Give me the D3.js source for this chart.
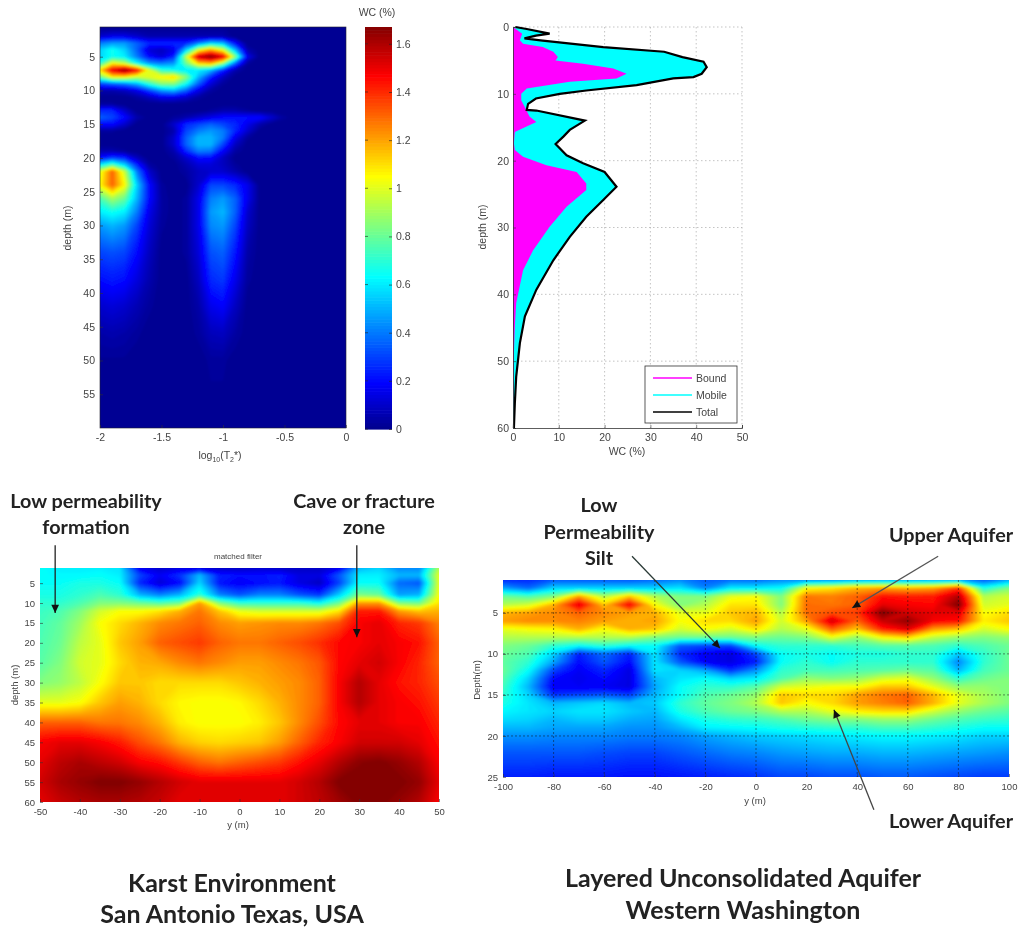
<!DOCTYPE html>
<html>
<head>
<meta charset="utf-8">
<title>Aquifer water content panels</title>
<script src="https://cdn.jsdelivr.net/npm/d3@7"></script>
<style>
    html, body { margin: 0; background: #fff; }
    svg { display: block; }
    .tick-text { font: 10.5px "Liberation Sans", Arial, sans-serif; fill: #444; }
    .note { font: 700 19.8px Lato, sans-serif; fill: #222; text-anchor: middle; }
    .caption { font: 700 25px Lato, sans-serif; fill: #222; text-anchor: middle; }
</style>
</head>
<body>
<svg id="chart" width="1035" height="928"></svg>
<script>
// ========================================
// DATA
// ========================================

// top left: water content by decay time and depth
const t2Cols = [-2, -1.9, -1.8, -1.7, -1.6, -1.5, -1.4, -1.3, -1.2, -1.1, -1, -0.9, -0.8, -0.7, -0.6, -0.5, -0.4, 0];
const t2Depths = [0.5, 1, 2, 3, 4, 5, 6, 7, 8, 9, 10, 11, 12, 13, 14, 15, 16, 17, 18, 19, 20, 21, 22, 24, 26, 28, 30, 34, 38, 42, 46, 50, 60];
const t2Water = [
    [0, 0, 0, 0, 0, 0, 0, 0, 0, 0, 0, 0, 0, 0, 0, 0, 0, 0],
    [.02, .02, .02, .02, .02, .02, .02, .02, .02, .02, .02, 0, 0, 0, 0, 0, 0, 0],
    [.1, .15, .15, .1, .05, .05, .05, .05, .05, .05, .05, 0, 0, 0, 0, 0, 0, 0],
    [.4, .45, .45, .35, .25, .25, .25, .25, .4, .55, .5, .2, 0, 0, 0, 0, 0, 0],
    [.55, .65, .55, .35, .12, .08, .15, .55, 1, 1.2, 1, .5, .05, 0, 0, 0, 0, 0],
    [.55, .65, .6, .4, .2, .12, .25, .95, 1.55, 1.67, 1.5, .85, .15, 0, 0, 0, 0, 0],
    [.7, 1.05, .95, .65, .45, .4, .45, .8, 1.1, 1.15, .85, .35, .02, 0, 0, 0, 0, 0],
    [1.1, 1.5, 1.65, 1.45, 1, .7, .65, .6, .6, .5, .25, .05, 0, 0, 0, 0, 0, 0],
    [.8, 1.05, 1.05, .95, 1, 1.05, 1.1, .85, .5, .25, .08, 0, 0, 0, 0, 0, 0, 0],
    [.3, .35, .4, .5, .7, .85, .85, .65, .35, .12, .02, 0, 0, 0, 0, 0, 0, 0],
    [.05, .05, .08, .15, .3, .45, .5, .35, .15, .03, 0, 0, 0, 0, 0, 0, 0, 0],
    [0, 0, 0, .03, .08, .15, .15, .1, .03, 0, 0, 0, 0, 0, 0, 0, 0, 0],
    [.02, .02, 0, 0, 0, 0, 0, 0, 0, 0, 0, 0, 0, 0, 0, 0, 0, 0],
    [.25, .25, .1, 0, 0, 0, 0, 0, 0, .02, .05, .05, .02, 0, 0, 0, 0, 0],
    [.35, .3, .2, .05, 0, 0, .02, .05, .1, .15, .2, .2, .2, .2, .1, .02, 0, 0],
    [.2, .2, .1, 0, 0, 0, .1, .25, .3, .35, .3, .25, .15, .05, 0, 0, 0, 0],
    [.02, .02, 0, 0, 0, 0, .05, .3, .4, .45, .4, .25, .1, 0, 0, 0, 0, 0],
    [0, 0, 0, 0, 0, 0, .1, .35, .5, .5, .4, .15, .02, 0, 0, 0, 0, 0],
    [0, 0, 0, 0, 0, 0, .1, .35, .5, .5, .3, .08, 0, 0, 0, 0, 0, 0],
    [.05, .05, .02, 0, 0, 0, .05, .25, .4, .38, .18, .03, 0, 0, 0, 0, 0, 0],
    [.2, .3, .25, .08, 0, 0, .02, .1, .2, .2, .08, 0, 0, 0, 0, 0, 0, 0],
    [.6, .75, .55, .25, .03, 0, 0, .05, .12, .12, .08, .02, 0, 0, 0, 0, 0, 0],
    [1, 1.3, .95, .4, .1, 0, 0, .03, .08, .1, .1, .05, 0, 0, 0, 0, 0, 0],
    [1.05, 1.3, 1.05, .55, .2, .02, 0, 0, .1, .3, .3, .25, .15, 0, 0, 0, 0, 0],
    [.75, .9, .8, .5, .2, .03, 0, .02, .15, .4, .45, .35, .15, 0, 0, 0, 0, 0],
    [.6, .65, .6, .4, .15, .03, 0, .02, .15, .45, .5, .35, .1, 0, 0, 0, 0, 0],
    [.45, .5, .45, .3, .12, .02, 0, .02, .15, .42, .45, .3, .08, 0, 0, 0, 0, 0],
    [.3, .32, .3, .2, .08, 0, 0, .02, .12, .32, .35, .22, .04, 0, 0, 0, 0, 0],
    [.2, .22, .2, .13, .05, 0, 0, 0, .08, .25, .28, .15, .02, 0, 0, 0, 0, 0],
    [.1, .12, .1, .06, .02, 0, 0, 0, .04, .15, .18, .08, 0, 0, 0, 0, 0, 0],
    [.04, .05, .04, .02, 0, 0, 0, 0, .02, .07, .08, .03, 0, 0, 0, 0, 0, 0],
    [.01, .01, .01, 0, 0, 0, 0, 0, 0, .02, .02, 0, 0, 0, 0, 0, 0, 0],
    [0, 0, 0, 0, 0, 0, 0, 0, 0, 0, 0, 0, 0, 0, 0, 0, 0, 0]
];
const t2Ticks = [-2, -1.5, -1, -0.5, 0];
const depthTicks55 = [5, 10, 15, 20, 25, 30, 35, 40, 45, 50, 55];
const colorbarTicks = [0, 0.2, 0.4, 0.6, 0.8, 1, 1.2, 1.4, 1.6];

// top right: profile
const totalDepth = [0, 0.3, 1, 1.3, 1.7, 2, 3, 3.7, 4.5, 5.2, 6, 7, 7.5, 7.7, 8.7, 9.5, 10, 10.7, 11.5, 12.4, 12.5, 14, 15.4, 16.4, 17.5, 19.2, 20.4, 21.7, 23.9, 25.9, 28.4, 31.4, 34.9, 39.3, 43.3, 47.3, 52.3, 56.3, 60];
const totalWC = [0.5, 3, 8, 5, 2.5, 6, 19.7, 33, 37, 41.6, 42.3, 41.2, 39.4, 35, 27, 16, 10.2, 5, 3.3, 3, 5.1, 15.7, 12.4, 11, 9.3, 11.7, 15.3, 20, 22.6, 19.7, 16, 12.4, 8.8, 5.1, 2.6, 1.5, 0.7, 0.4, 0.2];
const boundDepth = [0, 1, 2, 2.5, 3, 3.7, 4.5, 5, 5.5, 6.2, 7, 7.7, 8.2, 9.2, 10, 11, 12, 13.4, 14.2, 15, 15.7, 17.4, 18.4, 19.4, 20.7, 21.7, 23.4, 24.4, 26.9, 29.9, 33.4, 36.4, 41.3, 44.8, 49.8, 60];
const boundWC = [0, 2, 1.5, 2.2, 6.5, 8.8, 9.8, 9.3, 15.3, 21.9, 24.8, 22.6, 12.4, 3, 1.8, 1.8, 2.6, 3.6, 5.1, 2.6, 0.4, 0.2, 0.4, 2.2, 7.3, 13.9, 16, 16, 11.7, 8, 4.4, 2.2, 0.7, 0.4, 0.15, 0];
const profileWCTicks = [0, 10, 20, 30, 40, 50];
const profileDepthTicks = [0, 10, 20, 30, 40, 50, 60];
const legendNames = ["Bound", "Mobile", "Total"];
const legendColors = ["#ff00ff", "#00ffff", "#000000"];

// bottom left: karst section, values are colour map fractions
const karstY = [-50, -45, -40, -35, -30, -25, -20, -15, -10, -5, 0, 5, 10, 15, 20, 25, 30, 35, 40, 45, 50];
const karstDepths = [1.2, 3, 5, 8, 10, 12, 15, 20, 25, 30, 35, 40, 45, 50, 55, 60];
const karstValues = [
    [.38, .36, .36, .36, .35, .1, .06, .08, .08, .05, .05, .06, .05, .05, .05, .1, .3, .33, .25, .25, .55],
    [.38, .37, .37, .38, .36, .18, .1, .16, .3, .14, .12, .12, .14, .08, .08, .2, .36, .36, .3, .3, .6],
    [.38, .38, .4, .4, .38, .15, .07, .12, .33, .13, .1, .12, .13, .08, .05, .18, .38, .38, .22, .2, .6],
    [.4, .4, .42, .45, .42, .3, .25, .3, .42, .25, .2, .25, .25, .2, .17, .33, .5, .48, .28, .3, .62],
    [.42, .42, .45, .5, .5, .48, .45, .48, .72, .5, .42, .42, .42, .42, .38, .48, .72, .72, .5, .48, .65],
    [.43, .45, .5, .58, .62, .62, .65, .7, .76, .68, .6, .58, .58, .58, .58, .65, .85, .85, .72, .68, .7],
    [.44, .47, .53, .62, .66, .7, .74, .76, .78, .74, .72, .73, .74, .74, .76, .8, .88, .9, .84, .82, .75],
    [.45, .48, .56, .6, .68, .72, .78, .8, .82, .78, .76, .76, .78, .8, .83, .87, .88, .9, .88, .86, .78],
    [.46, .5, .58, .6, .66, .7, .71, .74, .76, .74, .72, .72, .74, .76, .79, .87, .9, .92, .88, .84, .78],
    [.5, .52, .56, .62, .68, .68, .66, .66, .66, .66, .68, .7, .72, .74, .78, .88, .95, .9, .86, .84, .8],
    [.6, .6, .62, .68, .72, .7, .66, .63, .62, .62, .63, .66, .7, .74, .78, .88, .95, .9, .88, .86, .82],
    [.78, .78, .78, .76, .76, .74, .7, .64, .62, .62, .62, .64, .68, .74, .8, .87, .9, .9, .88, .88, .84],
    [.88, .9, .9, .88, .85, .8, .76, .7, .67, .66, .67, .68, .72, .78, .84, .88, .92, .92, .92, .9, .86],
    [.9, .94, .96, .94, .92, .88, .86, .82, .78, .76, .78, .8, .82, .86, .9, .95, .99, 1, .98, .95, .88],
    [.92, .96, .98, 1, 1, .98, .95, .92, .9, .9, .9, .9, .9, .92, .95, 1, 1, 1, 1, .98, .9],
    [.9, .93, .95, .96, .96, .95, .93, .9, .9, .9, .9, .9, .9, .92, .94, .97, 1, 1, .98, .95, .88]
];
const karstYTicks = [-50, -40, -30, -20, -10, 0, 10, 20, 30, 40, 50];
const karstDepthTicks = [5, 10, 15, 20, 25, 30, 35, 40, 45, 50, 55, 60];

// bottom right: layered aquifer section, values are colour map fractions
const layerY = [-100, -90, -80, -70, -60, -50, -40, -30, -20, -10, 0, 10, 20, 30, 40, 50, 60, 70, 80, 90, 100];
const layerDepths = [1, 2, 3, 4, 5, 6, 7, 8, 9, 10, 11, 12, 13, 14, 15, 16, 17, 18, 19, 20, 22, 25];
const layerValues = [
    [.15, .15, .2, .2, .2, .2, .22, .25, .2, .22, .22, .25, .25, .25, .28, .28, .28, .28, .28, .2, .28],
    [.28, .22, .33, .33, .33, .33, .33, .35, .25, .36, .36, .38, .62, .65, .7, .72, .7, .72, .82, .4, .5],
    [.48, .45, .5, .72, .55, .68, .55, .5, .5, .6, .62, .5, .76, .75, .78, .86, .85, .85, .95, .55, .58],
    [.55, .58, .7, .9, .68, .88, .62, .5, .55, .65, .65, .5, .77, .76, .78, .9, .88, .87, 1, .58, .6],
    [.7, .72, .74, .78, .74, .72, .7, .6, .6, .68, .7, .55, .77, .8, .82, 1, .92, .9, .9, .62, .66],
    [.72, .74, .74, .75, .72, .7, .72, .62, .66, .66, .72, .58, .72, .92, .78, .93, .98, .88, .86, .64, .68],
    [.6, .62, .63, .7, .62, .7, .68, .58, .62, .58, .65, .55, .6, .78, .68, .84, .9, .72, .68, .58, .62],
    [.55, .55, .55, .55, .55, .55, .5, .48, .48, .48, .5, .48, .5, .6, .52, .62, .66, .56, .52, .5, .52],
    [.5, .48, .42, .38, .42, .38, .38, .2, .18, .18, .38, .42, .42, .42, .44, .46, .46, .45, .42, .45, .48],
    [.48, .45, .33, .14, .22, .14, .35, .15, .1, .08, .18, .38, .4, .38, .4, .4, .42, .42, .32, .42, .48],
    [.47, .42, .28, .12, .2, .12, .35, .2, .1, .08, .14, .38, .42, .38, .42, .42, .42, .42, .25, .42, .48],
    [.48, .38, .18, .1, .15, .08, .35, .33, .28, .16, .26, .42, .44, .44, .45, .46, .48, .46, .3, .44, .48],
    [.46, .33, .12, .09, .12, .08, .3, .35, .38, .33, .36, .45, .52, .5, .52, .58, .6, .52, .42, .48, .5],
    [.44, .3, .1, .1, .1, .08, .28, .38, .42, .42, .46, .58, .6, .62, .62, .68, .68, .6, .52, .52, .5],
    [.42, .33, .16, .18, .2, .17, .3, .38, .45, .48, .52, .68, .66, .66, .72, .76, .78, .7, .6, .54, .5],
    [.4, .35, .3, .32, .34, .3, .32, .42, .47, .5, .55, .68, .62, .66, .72, .75, .78, .7, .6, .54, .5],
    [.37, .35, .33, .35, .35, .32, .3, .4, .45, .48, .5, .55, .55, .6, .64, .66, .66, .58, .52, .48, .46],
    [.34, .33, .3, .32, .32, .29, .28, .35, .4, .42, .43, .45, .48, .5, .5, .52, .52, .48, .45, .43, .42],
    [.3, .3, .28, .28, .28, .26, .26, .3, .36, .37, .38, .4, .41, .42, .42, .44, .44, .42, .4, .38, .38],
    [.26, .26, .25, .25, .25, .24, .24, .25, .28, .3, .32, .33, .34, .35, .36, .37, .37, .36, .35, .33, .33],
    [.2, .2, .2, .2, .19, .18, .18, .2, .22, .24, .25, .27, .28, .29, .29, .3, .3, .29, .28, .27, .26],
    [.14, .14, .13, .13, .13, .12, .12, .13, .14, .15, .16, .18, .18, .19, .19, .2, .2, .19, .18, .17, .17]
];
const layerYTicks = [-100, -80, -60, -40, -20, 0, 20, 40, 60, 80, 100];
const layerDepthTicks = [5, 10, 15, 20, 25];

// ========================================
// SHARED HELPERS
// ========================================

const svg = d3.select("#chart");
const defs = svg.append("defs");

const jet = d3.scaleLinear()
    .domain([0, 0.11, 0.375, 0.625, 0.875, 1])
    .range(["#00008f", "#0000ff", "#00ffff", "#ffff00", "#ff0000", "#800000"])
    .clamp(true);

function addBlur(id, amount) {
    defs.append("filter").attr("id", id)
        .attr("x", "-5%").attr("y", "-5%").attr("width", "110%").attr("height", "110%")
        .append("feGaussianBlur").attr("stdDeviation", amount);
}
addBlur("softText", 0.6);
addBlur("softNote", 0.35);
addBlur("softLine", 0.6);
addBlur("softHeat", 1.3);

function makeScales(xDomain, xRange, yDomain, yRange) {
    return {
        x: d3.scaleLinear().domain(xDomain).range(xRange),
        y: d3.scaleLinear().domain(yDomain).range(yRange)
    };
}

// filled contours keep the jet colours correct between the read values
function drawHeat(id, scales, cols, rows, matrix, maxValue) {
    const [x0, x1] = scales.x.range();
    const [y0, y1] = scales.y.range();

    defs.append("clipPath").attr("id", id)
        .append("rect")
        .attr("x", x0).attr("y", y0)
        .attr("width", x1 - x0).attr("height", y1 - y0);

    const g = svg.append("g").attr("clip-path", `url(#${id})`);
    g.append("rect")
        .attr("x", x0).attr("y", y0)
        .attr("width", x1 - x0).attr("height", y1 - y0)
        .attr("fill", jet(0));

    const colPixel = d3.scaleLinear().domain(cols.map((d, i) => i + 0.5)).range(cols.map(scales.x));
    const rowPixel = d3.scaleLinear().domain(rows.map((d, i) => i + 0.5)).range(rows.map(scales.y));
    const path = d3.geoPath(d3.geoTransform({
        point(a, b) { this.stream.point(colPixel(a), rowPixel(b)); }
    }));

    const levels = d3.range(0, 120).map(i => i / 120 * maxValue);
    const contours = d3.contours()
        .size([cols.length, rows.length])
        .thresholds(levels)(matrix.flat());

    g.append("g").attr("filter", "url(#softHeat)")
        .selectAll("path")
        .data(contours)
        .join("path")
        .attr("d", path)
        .attr("fill", d => jet((d.value + maxValue / 240) / maxValue));
}

function drawAxes(scales, opts) {
    const g = svg.append("g").attr("filter", "url(#softText)");
    const [x0, x1] = scales.x.range();
    const [y0, y1] = scales.y.range();

    g.append("rect")
        .attr("x", x0).attr("y", y0)
        .attr("width", x1 - x0).attr("height", y1 - y0)
        .attr("fill", "none")
        .attr("stroke", opts.frame || "#555")
        .attr("stroke-width", 0.6);

    const xAxis = d3.axisBottom(scales.x).tickValues(opts.xTicks).tickSize(-3).tickPadding(6).tickFormat(String);
    const yAxis = d3.axisLeft(scales.y).tickValues(opts.yTicks).tickSize(-3).tickPadding(5).tickFormat(String);

    g.append("g").attr("transform", `translate(0,${y1})`).call(xAxis);
    g.append("g").attr("transform", `translate(${x0},0)`).call(yAxis);

    g.selectAll(".domain").remove();
    g.selectAll(".tick line").attr("stroke", "#333").attr("stroke-width", 0.6);
    g.selectAll(".tick text").attr("class", "tick-text").style("font-size", opts.fontSize || "10.5px");

    g.append("text").attr("class", "tick-text")
        .attr("x", opts.xLabelPos[0]).attr("y", opts.xLabelPos[1])
        .attr("text-anchor", "middle")
        .style("font-size", opts.fontSize || "10.5px")
        .text(opts.xTitle);
    g.append("text").attr("class", "tick-text")
        .attr("transform", `translate(${opts.yLabelPos[0]},${opts.yLabelPos[1]}) rotate(-90)`)
        .attr("text-anchor", "middle")
        .style("font-size", opts.fontSize || "10.5px")
        .text(opts.yTitle);
    return g;
}

function drawArrow(scales, from, to, color) {
    const x1 = scales.x(from[0]), y1 = scales.y(from[1]);
    const x2 = scales.x(to[0]), y2 = scales.y(to[1]);
    const angle = Math.atan2(y2 - y1, x2 - x1);
    svg.append("line")
        .attr("x1", x1).attr("y1", y1).attr("x2", x2).attr("y2", y2)
        .attr("stroke", color).attr("stroke-width", 1.3);
    const head = d3.range(3).map(i => {
        const a = angle + [0, 2.7, -2.7][i];
        const r = i === 0 ? 0 : 9;
        return [x2 + r * Math.cos(a), y2 + r * Math.sin(a)];
    });
    svg.append("polygon")
        .attr("points", head.join(" "))
        .attr("fill", "#111");
}

// ========================================
// TOP LEFT: T2 DISTRIBUTION
// ========================================

const t2Scales = makeScales([-2, 0], [100, 346], [0.6, 60], [27, 428]);
drawHeat("clipT2", t2Scales, t2Cols, t2Depths, t2Water, 1.67);
const t2Axes = drawAxes(t2Scales, {
    xTicks: t2Ticks, yTicks: depthTicks55,
    xTitle: "", yTitle: "depth (m)",
    xLabelPos: [223, 455], yLabelPos: [71, 228], frame: "#223"
});
const t2Title = t2Axes.append("text").attr("class", "tick-text")
    .attr("x", 220).attr("y", 459).attr("text-anchor", "middle");
t2Title.append("tspan").text("log");
t2Title.append("tspan").attr("dy", 3).style("font-size", "7px").text("10");
t2Title.append("tspan").attr("dy", -3).text("(T");
t2Title.append("tspan").attr("dy", 3).style("font-size", "7px").text("2");
t2Title.append("tspan").attr("dy", -3).text("*)");

// colorbar
const barScale = d3.scaleLinear().domain([0, 1.67]).range([429, 27]);
const barSteps = d3.range(0, 1.67, 1.67 / 128);
svg.append("g").selectAll("rect")
    .data(barSteps)
    .join("rect")
    .attr("x", 365).attr("width", 27)
    .attr("y", d => barScale(d + 1.67 / 128))
    .attr("height", d => barScale(d) - barScale(d + 1.67 / 128) + 0.6)
    .attr("fill", d => jet(d / 1.67));

const barAxis = svg.append("g").attr("filter", "url(#softText)");
barAxis.append("g")
    .attr("transform", "translate(392,0)")
    .call(d3.axisRight(barScale).tickValues(colorbarTicks).tickSize(-3).tickPadding(4).tickFormat(String))
    .call(g => g.select(".domain").remove())
    .call(g => g.selectAll(".tick line").attr("stroke", "#222").attr("stroke-width", 0.6))
    .call(g => g.selectAll(".tick text").attr("class", "tick-text"));
barAxis.append("g")
    .selectAll("line")
    .data(colorbarTicks)
    .join("line")
    .attr("x1", 365).attr("x2", 368)
    .attr("y1", barScale).attr("y2", barScale)
    .attr("stroke", "#222").attr("stroke-width", 0.6);
barAxis.append("text").attr("class", "tick-text")
    .attr("x", 377).attr("y", 16).attr("text-anchor", "middle").text("WC (%)");

// ========================================
// TOP RIGHT: WATER CONTENT PROFILE
// ========================================

const profile = makeScales([0, 50], [513, 742], [0, 60], [27, 428]);

const profileGrid = svg.append("g").attr("stroke", "#aaa").attr("stroke-width", 0.7).attr("stroke-dasharray", "1.5,2.5");
profileGrid.selectAll(".gx")
    .data(profileWCTicks.slice(1))
    .join("line").attr("class", "gx")
    .attr("x1", profile.x).attr("x2", profile.x)
    .attr("y1", 27).attr("y2", 428);
profileGrid.selectAll(".gy")
    .data(profileDepthTicks.slice(0, -1))
    .join("line").attr("class", "gy")
    .attr("y1", profile.y).attr("y2", profile.y)
    .attr("x1", 513).attr("x2", 742);

const areaOf = (depths, values) => d3.area()
    .y((d, i) => profile.y(depths[i]))
    .x0(profile.x(0))
    .x1(d => profile.x(d))(values);

const profileMarks = svg.append("g").attr("filter", "url(#softLine)");
profileMarks.append("path").attr("d", areaOf(totalDepth, totalWC)).attr("fill", "#00ffff");
profileMarks.append("path").attr("d", areaOf(boundDepth, boundWC)).attr("fill", "#ff00ff");
profileMarks.append("path")
    .attr("d", d3.line().y((d, i) => profile.y(totalDepth[i])).x(d => profile.x(d))(totalWC))
    .attr("fill", "none").attr("stroke", "#000").attr("stroke-width", 2.2);

const profileAxes = svg.append("g").attr("filter", "url(#softText)");
profileAxes.append("g").attr("transform", "translate(0,428)")
    .call(d3.axisBottom(profile.x).tickValues(profileWCTicks).tickSize(-3).tickPadding(6));
profileAxes.append("g").attr("transform", "translate(513,0)")
    .call(d3.axisLeft(profile.y).tickValues(profileDepthTicks).tickSize(-3).tickPadding(4));
profileAxes.selectAll(".domain").attr("stroke", "#333").attr("stroke-width", 0.8);
profileAxes.selectAll(".tick line").attr("stroke", "#333").attr("stroke-width", 0.6);
profileAxes.selectAll(".tick text").attr("class", "tick-text");
profileAxes.append("text").attr("class", "tick-text")
    .attr("x", 627).attr("y", 455).attr("text-anchor", "middle").text("WC (%)");
profileAxes.append("text").attr("class", "tick-text")
    .attr("transform", "translate(486,227) rotate(-90)")
    .attr("text-anchor", "middle").text("depth (m)");

// legend
const legend = svg.append("g").attr("filter", "url(#softLine)");
legend.append("rect")
    .attr("x", 645).attr("y", 366).attr("width", 92).attr("height", 57)
    .attr("fill", "#fff").attr("stroke", "#333").attr("stroke-width", 0.8);
const legendRow = d3.scalePoint().domain(legendNames).range([378, 412]);
legend.selectAll("line")
    .data(legendNames)
    .join("line")
    .attr("x1", 653).attr("x2", 692)
    .attr("y1", legendRow).attr("y2", legendRow)
    .attr("stroke", (d, i) => legendColors[i]).attr("stroke-width", 1.5);
legend.selectAll("text")
    .data(legendNames)
    .join("text")
    .attr("class", "tick-text")
    .attr("x", 696).attr("y", d => legendRow(d) + 4)
    .text(d => d);

// ========================================
// BOTTOM LEFT: KARST SECTION
// ========================================

const karst = makeScales([-50, 50], [40, 439], [1.2, 60], [568, 802]);
drawHeat("clipKarst", karst, karstY, karstDepths, karstValues, 1);
const karstAxes = drawAxes(karst, {
    xTicks: karstYTicks, yTicks: karstDepthTicks,
    xTitle: "y (m)", yTitle: "depth (m)",
    xLabelPos: [238, 828], yLabelPos: [18, 685],
    frame: "none", fontSize: "9.5px"
});
karstAxes.append("text").attr("class", "tick-text")
    .attr("x", 238).attr("y", 559).attr("text-anchor", "middle")
    .style("font-size", "8px").text("matched filter");

// ========================================
// BOTTOM RIGHT: LAYERED AQUIFER SECTION
// ========================================

const layered = makeScales([-100, 100], [503, 1009], [1, 25], [580, 777]);
drawHeat("clipLayer", layered, layerY, layerDepths, layerValues, 1);

const layerGrid = svg.append("g").attr("stroke", "#111").attr("stroke-width", 0.7).attr("stroke-dasharray", "2,2").attr("opacity", 0.7);
layerGrid.selectAll(".gx")
    .data(layerYTicks.slice(1, -1))
    .join("line").attr("class", "gx")
    .attr("x1", layered.x).attr("x2", layered.x)
    .attr("y1", 580).attr("y2", 777);
layerGrid.selectAll(".gy")
    .data(layerDepthTicks.slice(0, -1))
    .join("line").attr("class", "gy")
    .attr("y1", layered.y).attr("y2", layered.y)
    .attr("x1", 503).attr("x2", 1009);

drawAxes(layered, {
    xTicks: layerYTicks, yTicks: layerDepthTicks,
    xTitle: "y (m)", yTitle: "Depth(m)",
    xLabelPos: [755, 804], yLabelPos: [480, 680],
    frame: "none", fontSize: "9.5px"
});

// ========================================
// ANNOTATIONS
// ========================================

drawArrow(karst, [-46.2, -4.5], [-46.2, 12.5], "#222");
drawArrow(karst, [29.4, -4.5], [29.4, 18.6], "#222");
drawArrow(layered, [-49, -1.9], [-14.2, 9.3], "#2a3a36");
drawArrow(layered, [72, -1.9], [38, 4.4], "#555");
drawArrow(layered, [46.6, 29], [30.8, 16.8], "#444");

const noteLayer = svg.append("g").attr("filter", "url(#softNote)");

function note(lines, x, y, lineHeight, cls) {
    const t = noteLayer.append("text").attr("class", cls);
    lines.forEach((line, i) => {
        t.append("tspan").attr("x", x).attr("y", y + i * lineHeight).text(line);
    });
}

note(["Low permeability", "formation"], 86, 508, 26, "note");
note(["Cave or fracture", "zone"], 364, 508, 26, "note");
note(["Low", "Permeability", "Silt"], 599, 512, 26.5, "note");
note(["Upper Aquifer"], 951, 542, 0, "note");
note(["Lower Aquifer"], 951, 828, 0, "note");
note(["Karst Environment", "San Antonio Texas, USA"], 232, 892, 31, "caption");
note(["Layered Unconsolidated Aquifer", "Western Washington"], 743, 887, 32, "caption");
</script>
</body>
</html>
